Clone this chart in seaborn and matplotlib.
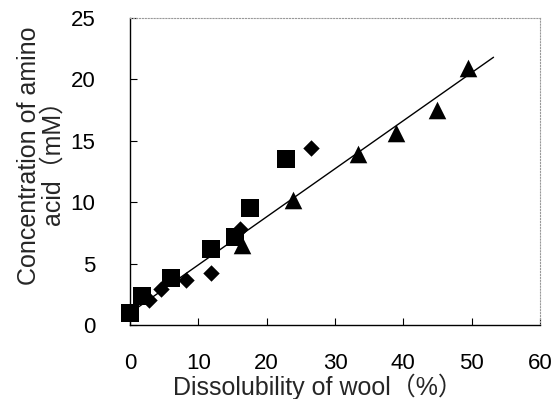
import pandas as pd
import seaborn as sns
import matplotlib.pyplot as plt

# ── data ────────────────────────────────────────────────────────────────────
square_x = [0.0, 1.7, 6.0, 11.9, 15.4, 17.6, 22.9]
square_y = [1.0, 2.4, 3.8, 6.15, 7.2, 9.55, 13.5]

diamond_x = [2.8, 4.6, 8.2, 11.9, 16.1, 26.5]
diamond_y = [2.0, 2.9, 3.65, 4.2, 7.8, 14.4]

triangle_x = [16.35, 23.8, 33.3, 38.9, 45.0, 49.4]
triangle_y = [6.55, 10.2, 13.9, 15.6, 17.5, 20.9]

fit_x = [0.3, 53.2]
fit_y = [1.1, 21.8]

x_ticks = [0, 10, 20, 30, 40, 50, 60]
y_ticks = [0, 5, 10, 15, 20, 25]

# ── appearance ──────────────────────────────────────────────────────────────
sns.set_theme(style="white")
plt.rcParams["font.family"] = ["Liberation Sans", "Noto Sans CJK JP",
                               "DejaVu Sans"]

df = pd.concat([
    pd.DataFrame({"x": square_x, "y": square_y, "kind": "square"}),
    pd.DataFrame({"x": diamond_x, "y": diamond_y, "kind": "diamond"}),
    pd.DataFrame({"x": triangle_x, "y": triangle_y, "kind": "triangle"}),
], ignore_index=True)

fig = plt.figure(figsize=(5.54, 3.99), dpi=100)
ax = fig.add_axes([0.2347, 0.1855, 0.74, 0.7695])

sns.lineplot(x=fit_x, y=fit_y, ax=ax, color="black", linewidth=1.0)
sns.scatterplot(data=df[df.kind == "square"], x="x", y="y", marker="s",
                s=160, color="black", edgecolor="black", linewidth=0, ax=ax,
                zorder=3, clip_on=False)
sns.scatterplot(data=df[df.kind == "diamond"], x="x", y="y", marker="D",
                s=70, color="black", edgecolor="black", linewidth=0, ax=ax,
                zorder=3)
sns.scatterplot(data=df[df.kind == "triangle"], x="x", y="y", marker="^",
                s=160, color="black", edgecolor="black", linewidth=0, ax=ax,
                zorder=3)

ax.set_xlim(0, 60)
ax.set_ylim(0, 25)
ax.set_xticks(x_ticks)
ax.set_yticks(y_ticks)
ax.tick_params(axis="both", direction="in", length=5, width=0.8,
               colors="black", labelsize=16)
ax.tick_params(axis="x", pad=20)
ax.tick_params(axis="y", pad=25)
ax.tick_params(bottom=True, left=True)

for side in ["left", "bottom"]:
    ax.spines[side].set_color("black")
    ax.spines[side].set_linewidth(1.0)
for side in ["top", "right"]:
    ax.spines[side].set_color("#999999")
    ax.spines[side].set_linewidth(0.8)
    ax.spines[side].set_linestyle(":")

ax.set_xlabel("Dissolubility of wool（%）", fontsize=18, va="baseline")
ax.xaxis.set_label_coords(0.458, -0.228)
ax.set_ylabel("Concentration of amino\nacid（mM）", fontsize=18,
              va="center", linespacing=0.95)
ax.yaxis.set_label_coords(-0.218, 0.55)

fig.savefig("out.png", dpi=100)
